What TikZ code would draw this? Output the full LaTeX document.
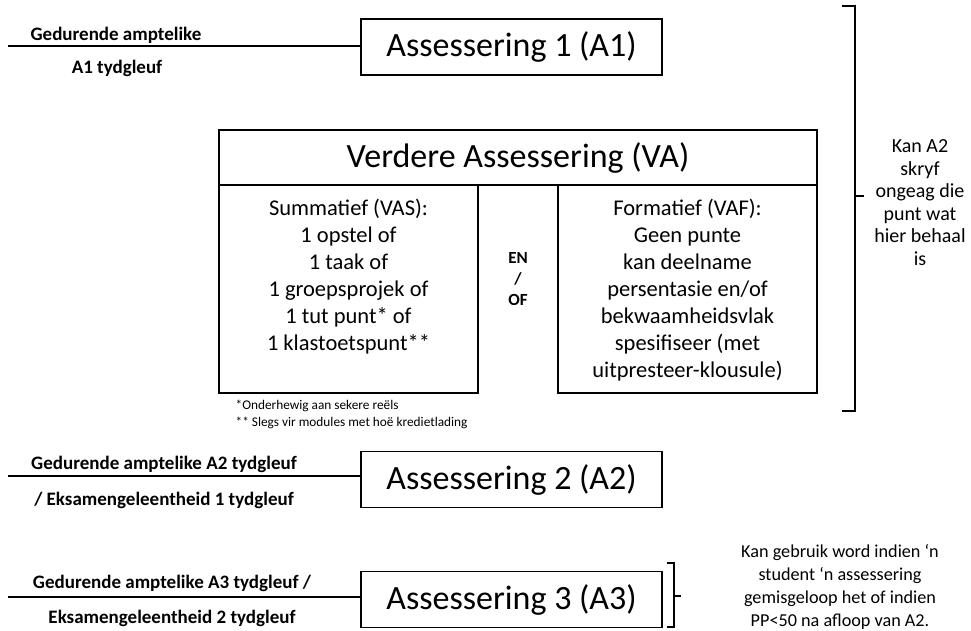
\documentclass[tikz,border=0pt]{standalone}
\usepackage{fontspec}
\setmainfont{Carlito}
\newcommand\myfs[2]{\fontsize{#1}{#2}\selectfont}
\begin{document}
\begin{tikzpicture}[x=1pt,y=-1pt, line width=1.3pt,
  abox/.style={draw, minimum width=301pt, minimum height=56pt, inner sep=0pt, font=\myfs{34}{40}},
  lbl/.style={anchor=base, inner sep=0pt, font=\bfseries\myfs{19}{22}},
  body/.style={align=center, inner sep=0pt, font=\myfs{22.5}{27}},
  subbox/.style={draw, minimum width=259pt, minimum height=208pt, inner sep=0pt},
  note/.style={align=center, inner sep=0pt, font=\myfs{20}{22.5}},
  foot/.style={anchor=base west, inner sep=0pt, font=\myfs{13.3}{15}}
]
\useasboundingbox (0,0) rectangle (971,630);

% Assessering 1
\node[abox] (a1) at (511.5,47) {Assessering 1 (A1)};
\coordinate (s1) at (8,46);
\draw (s1) -- (s1 -| a1.west);
\node[lbl] (l1a) at (116,40) {Gedurende amptelike};
\node[lbl] (l1b) at (117,73) {A1 tydgleuf};

% Verdere assessering
\node[draw, minimum width=598pt, minimum height=55pt, inner sep=0pt, font=\myfs{34}{40}] (va) at (518,157.5) {Verdere Assessering (VA)};
\node[subbox] (vasbox) at (348.5,289) {};
\node[subbox] (vafbox) at (687.5,289) {};
\node[body] (vas) at (348.5,277) {Summatief (VAS):\\1 opstel of\\1 taak of\\1 groepsprojek of\\1 tut punt* of\\1 klastoetspunt**};
\node[body] (vaf) at (687.5,290.5) {Formatief (VAF):\\Geen punte\\kan deelname\\persentasie en/of\\bekwaamheidsvlak\\spesifiseer (met\\uitpresteer-klousule)};
\node[align=center, inner sep=0pt, font=\bfseries\myfs{17}{21}] (enof) at (518,279) {EN\\/\\OF};
\node[foot] (fn1) at (235,409) {*Onderhewig aan sekere reëls};
\node[foot] (fn2) at (235,426) {** Slegs vir modules met hoë kredietlading};

% big bracket
\coordinate (b1t) at (842,6);
\coordinate (b1m) at (855,196);
\draw (b1t) -- ++(13,0) -- ++(0,405) -- ++(-13,0);
\draw (b1m) -- ++(9,0);
\node[note] (n1) at (920,202.5) {Kan A2\\skryf\\ongeag die\\punt wat\\hier behaal\\is};

% Assessering 2
\node[abox] (a2) at (511.5,479.5) {Assessering 2 (A2)};
\coordinate (s2) at (8,476);
\draw (s2) -- (s2 -| a2.west);
\node[lbl] (l2a) at (164,469) {Gedurende amptelike A2 tydgleuf};
\node[lbl] (l2b) at (164,505) {/ Eksamengeleentheid 1 tydgleuf};

% Assessering 3
\node[abox] (a3) at (511.5,599.5) {Assessering 3 (A3)};
\coordinate (s3) at (8,597);
\draw (s3) -- (s3 -| a3.west);
\node[lbl] (l3a) at (172,588) {Gedurende amptelike A3 tydgleuf /};
\node[lbl] (l3b) at (172,623) {Eksamengeleentheid 2 tydgleuf};

% small bracket
\coordinate (b2t) at (667,563);
\coordinate (b2m) at (674,596);
\draw (b2t) -- ++(7,0) -- ++(0,64) -- ++(-7,0);
\draw (b2m) -- ++(7,0);
\node[note, font=\myfs{18.2}{23}] (n2) at (840,587) {Kan gebruik word indien ‘n\\student ‘n assessering\\gemisgeloop het of indien\\PP<50 na afloop van A2.};
\end{tikzpicture}
\end{document}
